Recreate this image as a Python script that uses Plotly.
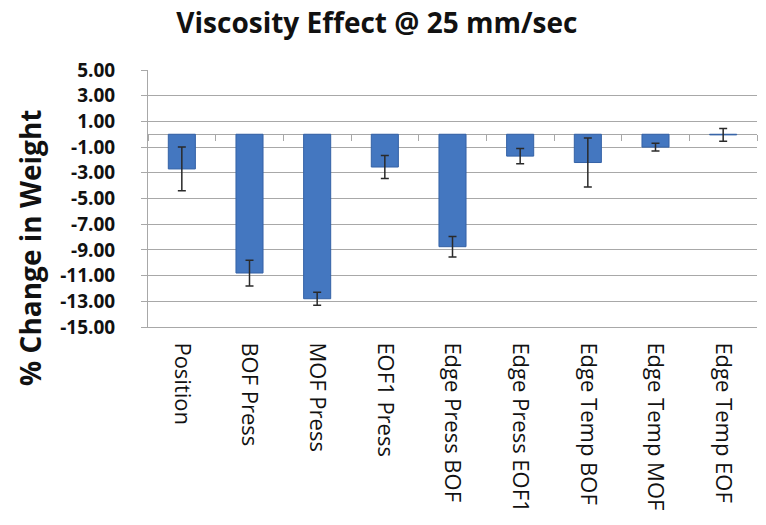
import plotly.graph_objects as go

# Percent change in weight per factor, with error bar half-widths
factors = ["Position", "BOF Press", "MOF Press", "EOF1 Press", "Edge Press BOF",
           "Edge Press EOF1", "Edge Temp BOF", "Edge Temp MOF", "Edge Temp EOF"]
pct_change = [-2.7, -10.8, -12.8, -2.55, -8.75, -1.7, -2.2, -1.0, -0.05]
err_half = [1.7, 1.0, 0.5, 0.9, 0.8, 0.6, 1.9, 0.3, 0.5]

y_ticks = [5, 3, 1, -1, -3, -5, -7, -9, -11, -13, -15]
y_tick_text = ["5.00", "3.00", "1.00", "-1.00", "-3.00", "-5.00", "-7.00",
               "-9.00", "-11.00", "-13.00", "-15.00"]
y_range = [-15, 5]

GRID = "#a8a8a8"
FONT = "Open Sans"

fig = go.Figure()
fig.add_trace(go.Bar(
    x=list(range(len(factors))),
    y=pct_change,
    width=0.4,
    marker=dict(color="#4477c0", line=dict(color="#3462a6", width=1)),
    error_y=dict(type="data", array=err_half, visible=True,
                 color="#2a2a2a", thickness=1.5, width=4),
    showlegend=False,
))
# Empty trace so the category-boundary axis at zero is drawn
fig.add_trace(go.Scatter(x=[], y=[], xaxis="x2", yaxis="y", showlegend=False))

n = len(factors)
zero_pos = (0 - y_range[0]) / (y_range[1] - y_range[0])

fig.update_layout(
    width=766, height=525,
    margin=dict(l=148, r=9, t=70, b=198),
    paper_bgcolor="white", plot_bgcolor="white",
    title=dict(text="<b>Viscosity Effect @ 25 mm/sec</b>",
               font=dict(family=FONT, size=28, color="#111111"),
               x=0.492, xanchor="center", xref="container",
               y=0.955, yanchor="middle", yref="container"),
    xaxis=dict(
        range=[-0.5, n - 0.5],
        tickmode="array", tickvals=list(range(n)), ticktext=factors,
        tickangle=90, ticks="", ticklabelstandoff=10,
        tickfont=dict(family=FONT, size=22, color="#111111"),
        showgrid=False, showline=True, linecolor=GRID, linewidth=1,
        zeroline=False,
    ),
    xaxis2=dict(
        overlaying="x", anchor="free", position=zero_pos,
        range=[-0.5, n - 0.5],
        tickmode="array", tickvals=[i + 0.5 for i in range(-1, n)],
        ticks="outside", ticklen=6, tickcolor=GRID, tickwidth=1,
        showticklabels=False, showgrid=False, showline=False, zeroline=False,
    ),
    yaxis=dict(
        range=y_range,
        tickmode="array", tickvals=y_ticks, ticktext=y_tick_text,
        ticks="outside", ticklen=6, tickcolor=GRID, ticklabelstandoff=22,
        tickfont=dict(family=FONT, size=19, color="#111111", weight="bold"),
        showgrid=True, gridcolor=GRID, gridwidth=1,
        showline=True, linecolor=GRID, linewidth=1,
        zeroline=True, zerolinecolor=GRID, zerolinewidth=1,
    ),
    annotations=[dict(
        text="<b>% Change in Weight</b>",
        textangle=-90, showarrow=False,
        xref="paper", yref="paper", x=-0.194, y=0.307,
        xanchor="center", yanchor="middle",
        font=dict(family=FONT, size=28, color="#111111"),
    )],
)

fig.write_html("out.html")
